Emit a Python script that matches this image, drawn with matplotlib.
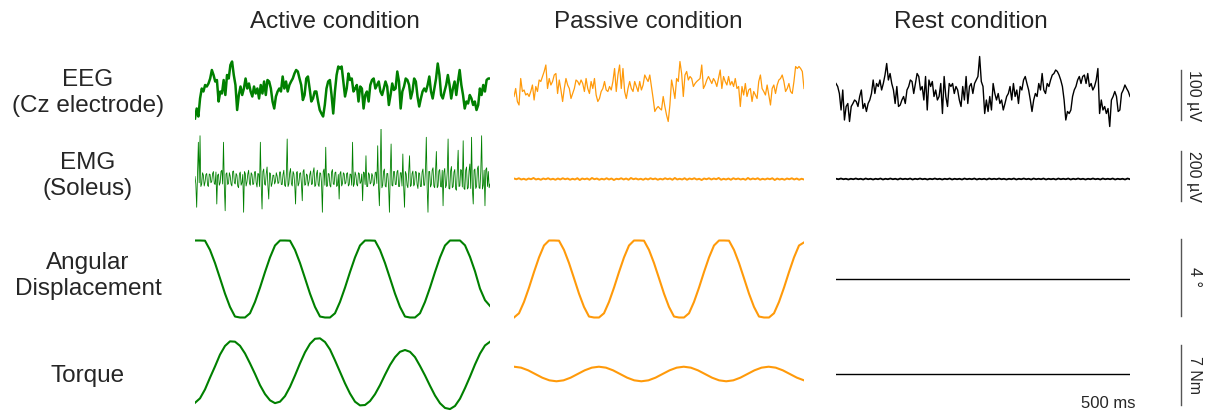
import matplotlib.pyplot as plt
import numpy as np

plt.rcParams['font.family'] = ['Liberation Sans', 'DejaVu Sans']

W, H = 1212, 413

conditions = ['Active condition', 'Passive condition', 'Rest condition']
row_labels = ['EEG\n(Cz electrode)', 'EMG\n(Soleus)', 'Angular\nDisplacement', 'Torque']
scale_labels = ['100 µV', '200 µV', '4 °', '7 Nm']
scale_sizes = [100, 200, 4, 7]
time_label = '500 ms'
panel_ms = 2000

# EEG (µV)
eeg_active = [-53, -33, -49, -13, 7, 1, 14, 11, 17, 27, 44, 34, 21, 24, -19, 1, -3, 24, -6, 34,
              27, 54, 61, 34, 14, -36, -6, 11, -6, 7, 27, 7, 17, 1, -9, 11, -3, 7, -13, 14,
              -3, 21, -6, 24, 21, 7, -19, -33, -9, 1, 7, 1, 31, 7, 21, 1, 14, 21, 27, 37,
              44, 41, 27, 14, -16, -6, 27, 31, 7, -19, -13, 1, 1, -19, -36, -43, -49, -26, 7, 21,
              24, -6, -43, 1, 34, 51, 47, 51, 21, -9, 7, 37, 24, 27, 1, 7, 14, -19, 11, 7,
              -33, -6, 1, -19, 14, 24, 27, 7, 14, 21, 1, -6, 7, 21, 11, -26, -6, 17, 4, 7,
              41, 21, -33, 1, 11, 27, 24, 14, -13, 1, 27, 21, -9, -29, -13, 1, 7, 1, 14, 31,
              1, -13, 7, 27, 57, 34, -6, -13, 1, 14, 34, 14, -13, 7, 21, -6, 21, 44, 14, -6,
              -33, -19, -23, -6, -13, -26, -19, -36, -26, 7, -6, 14, 1, 24, 27, 27]
eeg_passive = [-9, 7, -19, -26, 27, 1, 4, -6, -3, -9, 1, 14, -16, 11, 1, 24, 21, 31, 41, 54,
               7, 27, 14, 21, 34, 37, -3, 24, 4, -19, 7, 27, 14, 7, -13, -3, 7, 24, 21, 14,
               24, 17, 1, 27, 7, -3, 21, 7, 27, -6, -19, -13, 1, 7, 21, 4, 1, 11, 4, 21,
               47, 1, 34, 54, 7, 47, 1, -13, 7, 21, 7, 1, 21, 11, 1, 21, 4, 14, 34, 27,
               21, 34, 11, -13, -39, -33, -29, -33, -36, -9, -29, -46, -59, -26, 24, 7, -13, 27, 21, 61,
               37, -9, 34, 41, 24, 31, 27, 11, 17, 21, 24, 27, 54, 7, 14, 24, 31, 24, 17, 27,
               21, 11, 27, 44, 7, 31, 21, 14, 31, 14, 21, 11, 27, 7, 11, -29, 11, -6, 17, -9,
               4, 7, -19, 1, -6, -13, 21, 34, 7, 1, -6, 14, -6, -26, 7, 14, -3, 14, 24, 27,
               34, 21, 1, 7, 17, 1, -3, 21, 51, 47, 51, 47, 41, 7]
eeg_rest = [17, 11, -3, -36, 4, -56, -29, -23, -59, -29, -23, -16, -19, -29, -9, 4, -33, -23, -39, -23,
            -16, -3, 24, -3, 17, 11, 24, 4, 17, 34, 57, 24, 37, 17, 4, -23, 11, -29, -26, -16,
            -9, -23, 4, 11, 24, 21, -3, 17, 37, 31, 4, 11, -16, 31, -36, 24, 11, 21, -9, 4,
            -16, -9, 17, -43, 31, -9, -29, 17, 11, 17, -3, 11, 4, -16, -29, 11, -16, 31, -23, 11,
            17, -3, 17, 24, 31, 71, 21, 11, -43, -16, -39, -9, -36, 17, -3, -16, -3, -23, -16, -36,
            -23, -9, -3, 11, -16, 17, -9, 4, -23, 11, 4, 24, 31, 17, 4, -16, -39, -16, -3, -9,
            17, 4, 37, 4, -3, 17, 11, 24, 34, 37, 44, 41, 34, 24, 11, -16, -56, -39, -43, -36,
            -9, 4, 11, 24, 31, 17, 31, 34, 17, 37, 11, 17, 4, 11, 24, 47, -43, -16, -36, -29,
            -43, -33, -69, -16, -9, 1, -9, -39, -36, -3, 4, 14, 7, 1, -9]

# EMG (µV)
emg_active = [10, -20, -113, 25, 147, -15, 173, -30, -20, 25, 15, -28, -12, 18, 22, -25, -30, 20, 18, -15,
              -10, 22, 30, -18, -22, 28, -100, 15, 20, -25, -15, 30, 35, -20, 147, -30, -127, 20, 25, -22,
              -18, 25, 12, -20, -28, 30, 32, -15, -20, 22, 15, -28, -35, 20, 28, -25, -15, 18, -133, 30,
              22, -28, -12, 20, 35, -18, -25, 25, 18, -22, -20, 28, 30, -15, -32, 22, 20, -30, 147, -25,
              -120, 30, 40, -20, -25, 22, 48, -28, -80, 25, 22, -30, -18, 15, 15, -20, -10, 25, 12, -18,
              -15, 28, 28, -22, -22, 18, 35, -25, -30, 20, 160, -30, -20, 25, 42, -18, -28, 30, 20, -22,
              -100, 25, 30, -28, -18, 22, 25, -20, -87, 30, 38, -25, -22, 20, 15, -28, -12, 18, 32, -22,
              -20, 28, 45, -30, -25, 20, 35, -22, -30, 25, 22, -18, -133, 30, 40, -25, 127, -30, -28, 22,
              20, -25, -32, 28, 38, -20, -22, 25, 28, -30, -25, 18, -80, 22, 30, -28, -18, 25, 20, -20,
              -15, 22, 25, -28, -22, 20, 18, -25, 147, -30, -20, 28, 15, -22, -28, 25, 22, -18, -12, 20,
              -87, 28, 25, -22, 93, -30, -30, 25, 18, -20, -15, 22, 12, -28, -20, 25, 28, -18, 133, -30,
              -107, 28, 213, -35, -25, 30, 40, -28, -32, 22, 22, -30, -133, 28, 140, -25, -28, 30, 30, -22,
              -22, 28, 35, -30, -30, 25, 25, -28, 100, -32, -113, 30, 20, -25, -35, 28, 93, -30, -25, 22,
              32, -28, -20, 30, 28, -22, -38, 25, 22, -30, -30, 28, 40, -25, -25, 32, 167, -35, -133, 30,
              30, -32, -22, 35, 45, -28, -35, 30, 110, -35, -28, 32, 38, -30, -32, 35, -107, 28, 42, -35,
              -25, 30, 160, -38, -40, 32, 50, -35, -30, 28, 38, -40, -45, 35, 115, -30, -28, 38, 35, -32,
              153, -38, -42, 35, 48, -40, -35, 32, 60, -38, 167, -42, -100, 35, 40, -38, -30, 42, 52, -35,
              -38, 30, 173, -40, -25, 35, -107, 38, 45, -30, 30, -35, -20]
emg_passive = [2, -1, 3, -2, 1, -3, 2, -1, 4, -2, 1, -3, 2, -1, 3, -2, 1, -3, 2, -2,
               3, -1, 2, -3, 1, -2, 3, -4, 2, -1, 2, -3, 4, -1, 2, -3, 1, -2, 3, -2,
               2, -4, 1, -1, 3, -2, 2, -3, 4, -1, 2, -2, 1, -3, 2, -2, 3, -1, 2, -3,
               1, -2, 3, -1, 2, -3, 4, -2, 1, -2, 3, -3, 2, -1, 3, -2, 1, -4, 2, -1,
               3, -2, 2, -1, 4, -3, 1, -2, 2, -3, 3, -1, 2, -2, 1, -3, 4, -2, 2, -1,
               3, -3, 1, -2, 2, -1, 3, -4, 2, -2, 1, -3, 2, -1, 3, -2, 2, -3, 1, -2]
emg_rest = [1, -1, 2, -1, 1, -2, 1, -1, 2, -1, 1, -2, 2, -1, 1, -2, 1, -1, 2, -2,
            1, -1, 2, -1, 1, -2, 2, -1, 1, -1, 2, -2, 1, -1, 2, -1, 1, -2, 1, -1,
            2, -1, 1, -2, 1, -1, 2, -2, 1, -1, 1, -2, 2, -1, 1, -1, 2, -2, 1, -1,
            1, -2, 2, -1, 1, -1, 2, -1, 1, -2, 1, -1, 2, -2, 1, -1, 2, -1, 1, -2,
            2, -1, 1, -1, 2, -2, 1, -1, 1, -2, 2, -1, 1, -1, 2, -2, 1, -1, 2, -1,
            1, -2, 1, -1, 2, -1, 1, -2, 2, -1, 1, -1, 2, -2, 1, -1, 1, -2, 2, -1]

# Angular displacement (deg)
ang_active = [2.0,
              2.0, 1.99, 1.51, 0.83, 0.04, -0.76, -1.45, -1.95, -2.0, -2.0, -1.78, -1.19, -0.45, 0.36, 1.12, 1.74, 2.0,
              2.0, 1.99, 1.51, 0.83, 0.04, -0.76, -1.45, -1.95, -2.0, -2.0, -1.78, -1.19, -0.45, 0.36, 1.12, 1.74, 2.0,
              2.0, 1.99, 1.51, 0.83, 0.04, -0.76, -1.45, -1.95, -2.0, -2.0, -1.78, -1.19, -0.45, 0.36, 1.12, 1.74, 2.0,
              2.0, 2.0, 1.75, 1.15, 0.4, -0.5, -1.1, -1.4]
ang_passive = [-2.0, -1.78, -1.19, -0.45, 0.36, 1.12, 1.74, 2.0,
               2.0, 1.99, 1.51, 0.83, 0.04, -0.76, -1.45, -1.95, -2.0, -2.0, -1.78, -1.19, -0.45, 0.36, 1.12, 1.74, 2.0,
               2.0, 1.99, 1.51, 0.83, 0.04, -0.76, -1.45, -1.95, -2.0, -2.0, -1.78, -1.19, -0.45, 0.36, 1.12, 1.74, 2.0,
               2.0, 1.99, 1.51, 0.83, 0.04, -0.76, -1.45, -1.95, -2.0, -2.0, -1.78, -1.19, -0.45, 0.36, 1.12, 1.74, 1.9]
ang_rest = [0.0, 0.0]

# Torque (Nm)
torque_active = [-3.36, -2.84, -1.80, -0.43, 0.88, 2.26, 3.27, 3.81,
                 3.77, 3.29, 2.40, 1.24, 0.01, -1.30, -2.34, -3.07, -3.40,
                 -3.23, -2.58, -1.50, -0.17, 1.24, 2.53, 3.52, 4.11,
                 4.16, 3.73, 2.86, 1.59, 0.25, -1.09, -2.28, -3.23, -3.66,
                 -3.62, -3.16, -2.36, -1.30, -0.09, 1.05, 1.96, 2.59, 2.80,
                 2.59, 1.97, 0.94, -0.17, -1.37, -2.51, -3.41, -3.96,
                 -4.09, -3.73, -2.88, -1.65, -0.31, 1.11, 2.38, 3.33, 3.76]
torque_passive = [0.85, 0.74, 0.43, 0, -0.43, -0.74, -0.85, -0.74, -0.43, 0, 0.43, 0.74,
                  0.85, 0.74, 0.43, 0, -0.43, -0.74, -0.85, -0.74, -0.43, 0, 0.43, 0.74,
                  0.85, 0.74, 0.43, 0, -0.43, -0.74, -0.85, -0.74, -0.43, 0, 0.43, 0.74,
                  0.85, 0.74, 0.43, 0, -0.43, -0.74]
torque_rest = [0.0, 0.0]

traces = [[eeg_active, eeg_passive, eeg_rest],
          [emg_active, emg_passive, emg_rest],
          [ang_active, ang_passive, ang_rest],
          [torque_active, torque_passive, torque_rest]]

colors = ['green', '#ff9a0a', 'black']
widths = [[1.8, 0.9, 1.0], [0.6, 1.4, 1.3], [1.5, 1.5, 1.0], [1.5, 1.5, 1.0]]

# layout in pixels
col_px = [(195, 490), (514, 804), (836, 1130)]
row_center = [92, 179, 279, 374]
row_height = [92, 100, 90, 76]
units_per_px = [2.0, 4.0, 4 / 77, 7 / 60]
label_y = [93, 176, 276, 376]
bar_center = [95, 176, 277, 375]

txt = '#262626'


def add_px_axes(fig, x0, x1, yc, h):
    ax = fig.add_axes([x0 / W, 1 - (yc + h / 2) / H, (x1 - x0) / W, h / H])
    ax.axis('off')
    return ax


fig = plt.figure(figsize=(W / 100, H / 100), dpi=100)

for r in range(4):
    half = row_height[r] / 2 * units_per_px[r]
    for c in range(3):
        ax = add_px_axes(fig, col_px[c][0], col_px[c][1], row_center[r], row_height[r])
        vals = traces[r][c]
        t = np.linspace(0, panel_ms, len(vals))
        ax.plot(t, vals, color=colors[c], lw=widths[r][c], solid_joinstyle='round')
        ax.set_xlim(0, panel_ms)
        ax.set_ylim(-half, half)

    # scale bar
    sax = add_px_axes(fig, 1171, 1191, bar_center[r], row_height[r])
    sax.set_xlim(0, 20)
    sax.set_ylim(-half, half)
    sax.plot([10, 10], [-scale_sizes[r] / 2, scale_sizes[r] / 2], color='#555555', lw=1.0)
    fig.text(1194 / W, 1 - bar_center[r] / H, scale_labels[r], rotation=270,
             ha='center', va='center', fontsize=11.5, color=txt)

    fig.text(88 / W, 1 - label_y[r] / H, row_labels[r], ha='center', va='center',
             fontsize=17.5, color=txt, linespacing=1.25)

title_x = [335, 648, 971]
for c in range(3):
    fig.text(title_x[c] / W, 1 - 22 / H, conditions[c], ha='center', va='center',
             fontsize=17.5, color=txt)

fig.text(1108 / W, 1 - 404 / H, time_label, ha='center', va='center', fontsize=12, color=txt)

fig.savefig('out.png', dpi=100, facecolor='white')
